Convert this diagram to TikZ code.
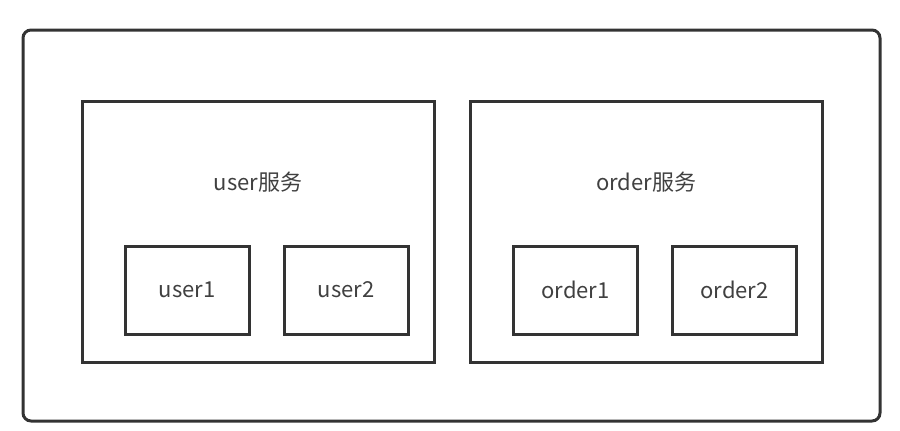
\documentclass[tikz,border=0pt]{standalone}
\usepackage{fontspec}
\setmainfont{Noto Sans CJK SC}
\begin{document}
\begin{tikzpicture}[x=1pt,y=-1pt,
  frame/.style={draw=black!80, line width=3pt},
  box/.style={frame, minimum width=124pt, minimum height=88pt, inner sep=0pt, text=black!75, font=\fontsize{22}{26}\selectfont},
  lbl/.style={text=black!75, font=\fontsize{22}{26}\selectfont, inner sep=0pt}]
\useasboundingbox (0,0) rectangle (900,431);
\draw[frame, rounded corners=8pt] (23,30) rectangle (880,421);
\node[frame, inner sep=0pt, minimum width=352pt, minimum height=261pt] (usvc) at (258,231.5) {};
\node[frame, inner sep=0pt, minimum width=352pt, minimum height=261pt] (osvc) at (646,231.5) {};
\node[lbl] (ut) at (258,182) {user服务};
\node[lbl] (ot) at (646,182) {order服务};
\node[box] (u1) at (187,290) {user1};
\node[box] (u2) at (346,290) {user2};
\node[box] (o1) at (575.5,290) {order1};
\node[box] (o2) at (734.5,290) {order2};
\end{tikzpicture}
\end{document}
